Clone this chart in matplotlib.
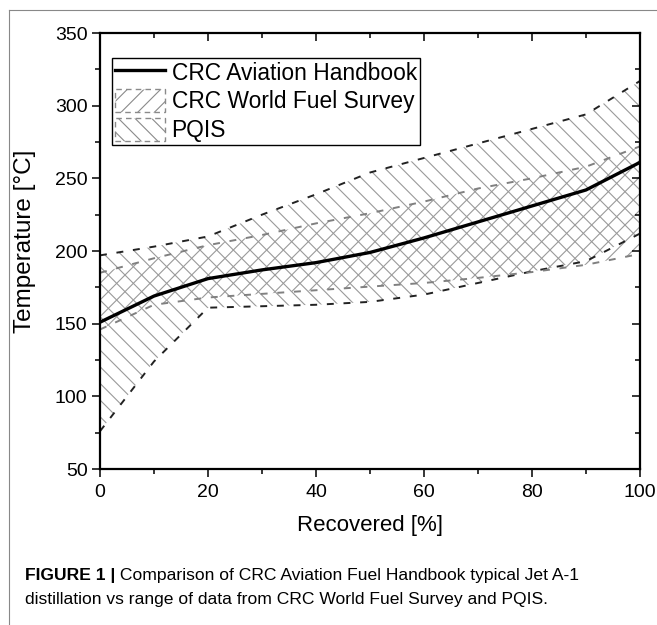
import numpy as np
import matplotlib
matplotlib.use("Agg")
import matplotlib.pyplot as plt
from matplotlib.lines import Line2D
from matplotlib.patches import Patch

plt.rcParams['font.family'] = ['Liberation Sans', 'DejaVu Sans']
plt.rcParams['hatch.linewidth'] = 0.8
plt.rcParams['lines.scale_dashes'] = False

# --- data ---
recovered = [0, 10, 20, 30, 40, 50, 60, 70, 80, 90, 100]
crc_handbook = [151, 169, 181, 187, 192, 199, 209, 220, 231, 242, 261]
wfs_upper = [185, 195, 204, 211, 219, 226, 234, 243, 250, 258, 272]
wfs_lower = [146, 163, 168, 170.5, 173, 175.5, 178, 181.5, 185.5, 190.5, 198]
pqis_upper = [197, 203, 210, 225, 239, 254, 264, 274, 284, 294, 317]
pqis_lower = [76, 124, 161, 162, 163, 165, 170, 178, 186, 193, 212]

labels = ["CRC Aviation Handbook", "CRC World Fuel Survey", "PQIS"]
caption_bold = "FIGURE 1 |"
caption_1 = " Comparison of CRC Aviation Fuel Handbook typical Jet A-1"
caption_2 = "distillation vs range of data from CRC World Fuel Survey and PQIS."

hatch_col = '#9a9a9a'
dash = (0, (5, 7))

fig = plt.figure(figsize=(6.57, 6.25), dpi=100)
ax = fig.add_axes([0.1522, 0.2496, 0.8219, 0.6976])

# hatched bands
ax.fill_between(recovered, pqis_lower, pqis_upper, facecolor='none',
                edgecolor=hatch_col, linewidth=0, hatch='\\\\')
ax.fill_between(recovered, wfs_lower, wfs_upper, facecolor='none',
                edgecolor=hatch_col, linewidth=0, hatch='//')

# band boundaries
ax.plot(recovered, pqis_upper, color='#222222', lw=1.4, ls=dash)
ax.plot(recovered, pqis_lower, color='#222222', lw=1.4, ls=dash)
ax.plot(recovered, wfs_upper, color='#808080', lw=1.4, ls=dash)
ax.plot(recovered, wfs_lower, color='#808080', lw=1.4, ls=dash)

# handbook line
ax.plot(recovered, crc_handbook, color='black', lw=2.4)

ax.set_xlim(0, 100)
ax.set_ylim(50, 350)
ax.set_xticks([0, 20, 40, 60, 80, 100])
ax.set_xticks([10, 30, 50, 70, 90], minor=True)
ax.set_yticks([50, 100, 150, 200, 250, 300, 350])
ax.set_yticks([75, 125, 175, 225, 275, 325], minor=True)

for s in ax.spines.values():
    s.set_linewidth(1.6)

ax.tick_params(which='both', labelsize=14, width=1.1, direction='out',
               top=True, right=True)
ax.tick_params(which='major', length=6)
ax.tick_params(which='minor', length=3.6)
ax.tick_params(axis='x', which='both', top=True, pad=5)
ax.tick_params(axis='y', pad=3)
# top and right ticks point inward
for t in ax.xaxis.get_major_ticks() + ax.xaxis.get_minor_ticks():
    t.tick2line.set_marker(3)
for t in ax.yaxis.get_major_ticks() + ax.yaxis.get_minor_ticks():
    t.tick2line.set_marker(0)

ax.set_xlabel("Recovered [%]", fontsize=16)
ax.set_ylabel("Temperature [°C]", fontsize=17.5)
ax.xaxis.set_label_coords(0.5, -0.105)
ax.yaxis.set_label_coords(-0.118, 0.523)

handles = [
    Line2D([], [], color='black', lw=2.4),
    Patch(facecolor='none', edgecolor='#8a8a8a', hatch='//', linestyle=(0, (4, 3)), lw=1.0),
    Patch(facecolor='none', edgecolor='#8a8a8a', hatch='\\\\', linestyle=(0, (4, 3)), lw=1.0),
]
leg = ax.legend(handles, labels, loc='upper left', bbox_to_anchor=(0.022, 0.943),
                borderaxespad=0, fontsize=16.4, frameon=True, fancybox=False,
                framealpha=1, edgecolor='black', handlelength=2.2,
                handleheight=1.2, handletextpad=0.3, labelspacing=0.18,
                borderpad=0.12)
leg.get_frame().set_linewidth(1.0)

# caption
cap_fam = ['Liberation Sans']
t1 = fig.text(0.038, 0.072, caption_bold, fontsize=12.6, fontweight='bold',
              family=cap_fam, va='baseline')
ax.annotate(caption_1, xy=(1, 0), xycoords=t1, va='bottom', ha='left',
            fontsize=12.6, family=cap_fam, annotation_clip=False)
fig.text(0.038, 0.0336, caption_2, fontsize=12.6, family=cap_fam, va='baseline')

# panel frame (top and left)
fig.add_artist(Line2D([9 / 657, 1], [1 - 10 / 625, 1 - 10 / 625],
                      transform=fig.transFigure, color='#888888', lw=0.8))
fig.add_artist(Line2D([9 / 657, 9 / 657], [0, 1 - 10 / 625],
                      transform=fig.transFigure, color='#888888', lw=0.8))

fig.savefig("out.png", dpi=100)
